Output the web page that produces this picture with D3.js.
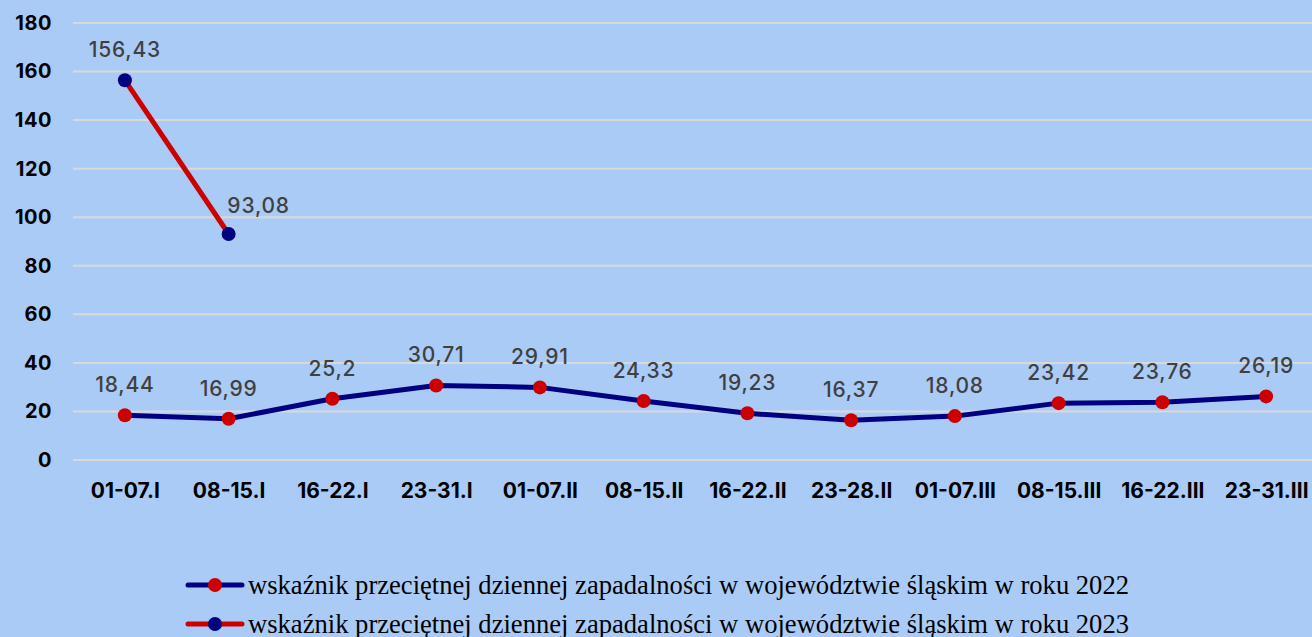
<!DOCTYPE html>
<html>
<head>
<meta charset="utf-8">
<script src="https://cdn.jsdelivr.net/npm/d3@7"></script>
<style>
  body { margin: 0; background: #abcbf7; }
  svg { display: block; }
</style>
</head>
<body>
<svg width="1312" height="637"></svg>
<script>
// data
const categories = ["01-07.I", "08-15.I", "16-22.I", "23-31.I", "01-07.II", "08-15.II",
  "16-22.II", "23-28.II", "01-07.III", "08-15.III", "16-22.III", "23-31.III"];
const values2022 = [18.44, 16.99, 25.2, 30.71, 29.91, 24.33, 19.23, 16.37, 18.08, 23.42, 23.76, 26.19];
const values2023 = [156.43, 93.08];
const yTicks = [0, 20, 40, 60, 80, 100, 120, 140, 160, 180];
const seriesNames = [
  "wskaźnik przeciętnej dziennej zapadalności w województwie śląskim w roku 2022",
  "wskaźnik przeciętnej dziennej zapadalności w województwie śląskim w roku 2023"
];

const navy = "#000080", red = "#cc0000";
const sans = "Inter, 'Open Sans', sans-serif";
const svg = d3.select("svg");

const x = d3.scalePoint().domain(categories).range([73, 1318]).padding(0.5);
const y = d3.scaleLinear().domain([0, 180]).range([460, 23]);

const fmt = v => String(v).replace(".", ",");

// gridlines
svg.append("g")
  .selectAll("line")
  .data(yTicks)
  .join("line")
    .attr("x1", 73).attr("x2", 1312)
    .attr("y1", d => y(d)).attr("y2", d => y(d))
    .attr("stroke", "#d9d9d9")
    .attr("stroke-width", 2);

// y axis
const yAxis = svg.append("g")
  .attr("transform", "translate(52,0)")
  .call(d3.axisLeft(y).tickValues(yTicks).tickSize(0).tickPadding(0));
yAxis.select(".domain").remove();
yAxis.selectAll("text")
  .style("font-family", sans)
  .style("font-size", "20px")
  .style("font-weight", "700")
  .style("letter-spacing", "0.5px")
  .attr("fill", "#000");

// x axis
const xAxis = svg.append("g")
  .attr("transform", "translate(0,476)")
  .call(d3.axisBottom(x).tickSize(0).tickPadding(7));
xAxis.select(".domain").remove();
xAxis.selectAll("text")
  .style("font-family", sans)
  .style("font-size", "21px")
  .style("font-weight", "700")
  .attr("fill", "#000");

const line = d3.line().x(d => x(d.cat)).y(d => y(d.v));
const s2022 = values2022.map((v, i) => ({cat: categories[i], v}));
const s2023 = values2023.map((v, i) => ({cat: categories[i], v}));

// series 2022: navy line, red markers
svg.append("path")
  .datum(s2022)
  .attr("d", line)
  .attr("fill", "none")
  .attr("stroke", navy)
  .attr("stroke-width", 5)
  .attr("stroke-linejoin", "round");
svg.append("g").selectAll("circle")
  .data(s2022)
  .join("circle")
    .attr("cx", d => x(d.cat)).attr("cy", d => y(d.v))
    .attr("r", 7)
    .attr("fill", red);

// series 2023: red line, navy markers
svg.append("path")
  .datum(s2023)
  .attr("d", line)
  .attr("fill", "none")
  .attr("stroke", red)
  .attr("stroke-width", 5)
  .attr("stroke-linejoin", "round");
svg.append("g").selectAll("circle")
  .data(s2023)
  .join("circle")
    .attr("cx", d => x(d.cat)).attr("cy", d => y(d.v))
    .attr("r", 7)
    .attr("fill", navy);

// data labels
const labelStyle = sel => sel
  .attr("text-anchor", "middle")
  .attr("fill", "#404040")
  .style("font-family", sans)
  .style("font-size", "21px")
  .style("font-weight", "500")
  .style("letter-spacing", "0.8px");

svg.append("g").selectAll("text")
  .data(s2022)
  .join("text")
    .attr("x", d => x(d.cat))
    .attr("y", d => y(d.v) - 23)
    .text(d => fmt(d.v))
    .call(labelStyle);

svg.append("g").selectAll("text")
  .data(s2023)
  .join("text")
    .attr("x", (d, i) => x(d.cat) + (i === 1 ? 30 : 0))
    .attr("y", (d, i) => y(d.v) - (i === 1 ? 21 : 23))
    .text(d => fmt(d.v))
    .call(labelStyle);

// legend
const legend = svg.append("g");
const legendColors = [[navy, red], [red, navy]];
seriesNames.forEach((name, i) => {
  const g = legend.append("g").attr("transform", `translate(188,${585 + i * 39})`);
  g.append("line")
    .attr("x1", 0).attr("x2", 54)
    .attr("stroke", legendColors[i][0])
    .attr("stroke-width", 5)
    .attr("stroke-linecap", "round");
  g.append("circle")
    .attr("cx", 27).attr("r", 7)
    .attr("fill", legendColors[i][1]);
  g.append("text")
    .attr("x", 60).attr("y", 9)
    .attr("fill", "#000")
    .style("font-family", "'Liberation Serif', 'Times New Roman', serif")
    .style("font-size", "26.6px")
    .text(name);
});
</script>
</body>
</html>
